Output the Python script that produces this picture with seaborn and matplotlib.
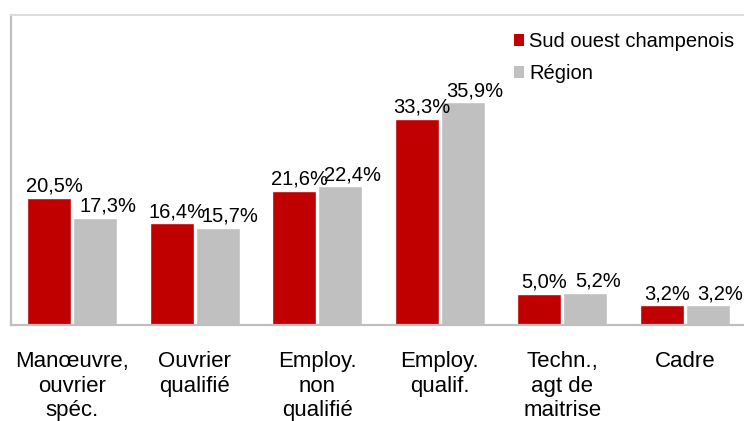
import pandas as pd
import matplotlib
matplotlib.use("Agg")
import matplotlib.pyplot as plt
import seaborn as sns
from matplotlib.patches import Patch

categories = ["Manœuvre,\nouvrier\nspéc.", "Ouvrier\nqualifié", "Employ.\nnon\nqualifié",
              "Employ.\nqualif.", "Techn.,\nagt de\nmaitrise", "Cadre"]
series = ["Sud ouest champenois", "Région"]
sud_ouest = [20.5, 16.4, 21.6, 33.3, 5.0, 3.2]
region = [17.3, 15.7, 22.4, 35.9, 5.2, 3.2]
colors = ["#C00000", "#C0C0C0"]

df = pd.DataFrame({
    "Catégorie": categories * 2,
    "Zone": [series[0]] * len(categories) + [series[1]] * len(categories),
    "Part": sud_ouest + region,
})

sns.set_style("white")
plt.rcParams["font.family"] = ["Liberation Sans", "DejaVu Sans"]
plt.rcParams["text.color"] = "#000000"

W, H = 744, 421
fig = plt.figure(figsize=(W / 100, H / 100), dpi=100)
ax = fig.add_axes([11 / W, (H - 325) / H, 735 / W, 310 / H])

sns.barplot(data=df, x="Catégorie", y="Part", hue="Zone", palette=colors,
            order=categories, hue_order=series, width=0.75, gap=0.04,
            saturation=1, ax=ax, legend=False)

ax.set_ylim(0, 50)
ax.set_xlim(-0.5, len(categories) - 0.5)
ax.set_xlabel("")
ax.set_ylabel("")
ax.set_yticks([])
ax.tick_params(axis="x", length=0, pad=19, labelsize=16, labelcolor="#000000")
for lab in ax.get_xticklabels():
    lab.set_linespacing(1.2)

for side in ["left", "bottom"]:
    ax.spines[side].set_color("#BFBFBF")
    ax.spines[side].set_linewidth(1.6)
for side in ["top", "right"]:
    ax.spines[side].set_color("#DDDDDD")
    ax.spines[side].set_linewidth(1.4)

# étiquettes de valeurs
shifts = [3.5, 9]
for cont, dx in zip(ax.containers, shifts):
    for p in cont.patches:
        v = p.get_height()
        ax.annotate(f"{v:.1f}%".replace(".", ","),
                    (p.get_x() + p.get_width() / 2, v),
                    xytext=(dx, 1.5), textcoords="offset points",
                    ha="center", va="bottom", fontsize=14.5, color="#000000")

handles = [Patch(facecolor=c, edgecolor="none") for c in colors]
fig.legend(handles, series, loc="upper left", bbox_to_anchor=(514 / W, 1 - 32 / H),
           frameon=False, fontsize=14.5, handlelength=0.5, handleheight=0.5,
           handletextpad=0.25, labelspacing=0.65, borderpad=0, borderaxespad=0,
           labelcolor="#000000")

fig.savefig("out.png", dpi=100)
